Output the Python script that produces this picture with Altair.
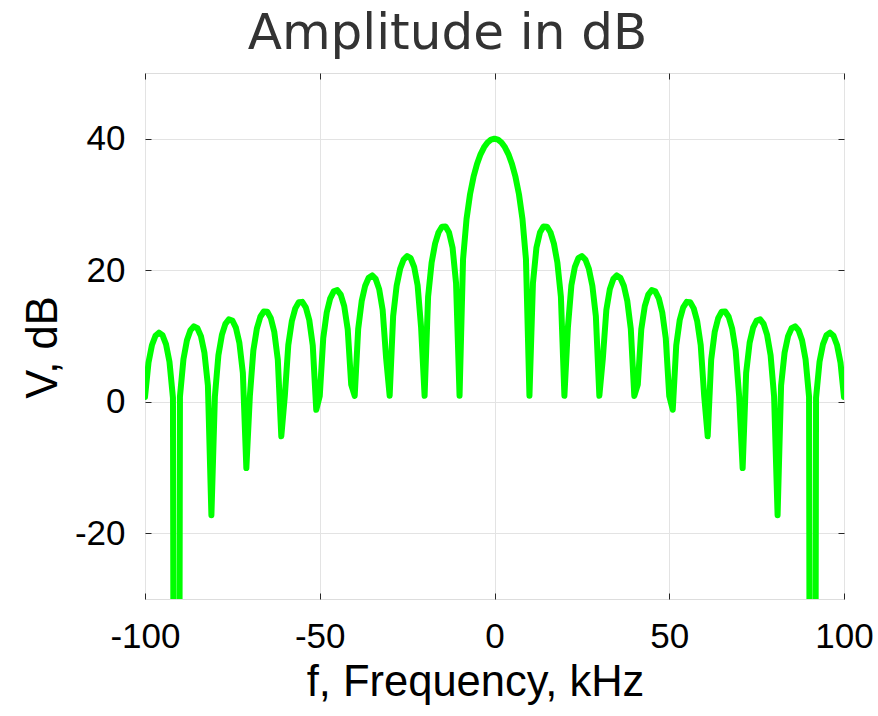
import altair as alt
import pandas as pd

# Frequency grid (kHz) and amplitude spectrum (dB)
freq_khz = list(range(-100, 101))

amplitude_db = [
    0.74, 5.95, 8.64, 10.04, 10.51, 10.12, 8.78, 6.08, 0.59, -290.0,
    0.78, 6.47, 9.35, 10.88, 11.46, 11.19, 9.98, 7.48, 2.47, -17.26,
    0.80, 7.07, 10.17, 11.84, 12.53, 12.36, 11.28, 8.97, 4.39, -10.09,
    0.83, 7.78, 11.11, 12.93, 13.73, 13.68, 12.72, 10.60, 6.41, -5.26,
    0.85, 8.63, 12.23, 14.20, 15.13, 15.19, 14.37, 12.43, 8.58, -1.22,
    0.87, 9.69, 13.59, 15.73, 16.79, 16.98, 16.30, 14.54, 11.03, 2.60,
    0.89, 11.08, 15.32, 17.65, 18.87, 19.21, 18.68, 17.13, 13.94, 6.59,
    0.90, 13.01, 17.64, 20.22, 21.63, 22.16, 21.85, 20.53, 17.71, 11.29,
    0.91, 15.96, 21.13, 24.05, 25.78, 26.62, 26.65, 25.73, 23.44, 18.04,
    0.91, 21.66, 27.80, 31.56, 34.21, 36.17, 37.63, 38.70, 39.43, 39.86,
    40.00,
    39.86, 39.43, 38.70, 37.63, 36.17, 34.21, 31.56, 27.80, 21.66, 0.91,
    18.04, 23.44, 25.73, 26.65, 26.62, 25.78, 24.05, 21.13, 15.96, 0.91,
    11.29, 17.71, 20.53, 21.85, 22.16, 21.63, 20.22, 17.64, 13.01, 0.90,
    6.59, 13.94, 17.13, 18.68, 19.21, 18.87, 17.65, 15.32, 11.08, 0.89,
    2.60, 11.03, 14.54, 16.30, 16.98, 16.79, 15.73, 13.59, 9.69, 0.87,
    -1.22, 8.58, 12.43, 14.37, 15.19, 15.13, 14.20, 12.23, 8.63, 0.85,
    -5.26, 6.41, 10.60, 12.72, 13.68, 13.73, 12.93, 11.11, 7.78, 0.83,
    -10.09, 4.39, 8.97, 11.28, 12.36, 12.53, 11.84, 10.17, 7.07, 0.80,
    -17.26, 2.47, 7.48, 9.98, 11.19, 11.46, 10.88, 9.35, 6.47, 0.78,
    -290.0, 0.59, 6.08, 8.78, 10.12, 10.51, 10.04, 8.64, 5.95, 0.74,
]

x_ticks = [-100, -50, 0, 50, 100]
y_ticks = [-20, 0, 20, 40]
x_domain = [-100, 100]
y_domain = [-30, 50]

df = pd.DataFrame({"f": freq_khz, "v": amplitude_db})

xscale = alt.Scale(domain=x_domain, nice=False, zero=False)
yscale = alt.Scale(domain=y_domain, nice=False, zero=False)

label_font = "Liberation Sans"
tick_len = 6
plain_label = "'' + datum.value"

main = alt.Chart(df).mark_line(
    color="#00ff00", strokeWidth=6, clip=True,
    strokeJoin="round", strokeCap="round",
).encode(
    x=alt.X("f:Q", scale=xscale, axis=alt.Axis(
        values=x_ticks, orient="bottom", title="f, Frequency, kHz",
        offset=-tick_len, tickSize=tick_len, tickColor="#262626", tickWidth=1,
        domain=False, grid=True, gridColor="#e3e3e3", gridWidth=1,
        labelFont=label_font, labelFontSize=35, labelColor="#000000",
        labelPadding=20, labelFlush=False, labelExpr=plain_label,
        titleFont=label_font, titleFontSize=43.5, titleFontWeight="normal",
        titleColor="#000000", titlePadding=7, titleX=330,
    )),
    y=alt.Y("v:Q", scale=yscale, axis=alt.Axis(
        values=y_ticks, orient="left", title="V, dB",
        offset=-tick_len, tickSize=tick_len, tickColor="#262626", tickWidth=1,
        domain=False, grid=True, gridColor="#e3e3e3", gridWidth=1,
        labelFont=label_font, labelFontSize=35, labelColor="#000000",
        labelPadding=20, labelFlush=False, labelExpr=plain_label,
        titleFont=label_font, titleFontSize=43.5, titleFontWeight="normal",
        titleColor="#000000", titlePadding=9, titleY=274,
    )),
)

frame_ticks = alt.Chart(df).mark_line(opacity=0, clip=True).encode(
    x=alt.X("f:Q", scale=xscale, axis=alt.Axis(
        values=x_ticks, orient="top", title=None, labels=False,
        offset=-tick_len, tickSize=tick_len, tickColor="#262626", tickWidth=1,
        domain=False, grid=False,
    )),
    y=alt.Y("v:Q", scale=yscale, axis=alt.Axis(
        values=y_ticks, orient="right", title=None, labels=False,
        offset=-tick_len, tickSize=tick_len, tickColor="#262626", tickWidth=1,
        domain=False, grid=False,
    )),
)

chart = alt.layer(main, frame_ticks).resolve_axis(
    x="independent", y="independent"
).properties(
    width=699,
    height=526,
    title=alt.TitleParams(
        text="Amplitude in dB", font="DejaVu Sans", fontSize=50,
        fontWeight="normal", color="#333333", anchor="middle",
        baseline="alphabetic", offset=23, dx=-47, dy=49,
    ),
    autosize=alt.AutoSizeParams(type="none"),
    padding={"left": 145, "top": 73, "right": 34, "bottom": 117},
).configure_view(
    stroke="#262626", strokeWidth=1.2,
).configure(background="white")

chart.save("out.html", embed_options={"renderer": "svg", "actions": False})
